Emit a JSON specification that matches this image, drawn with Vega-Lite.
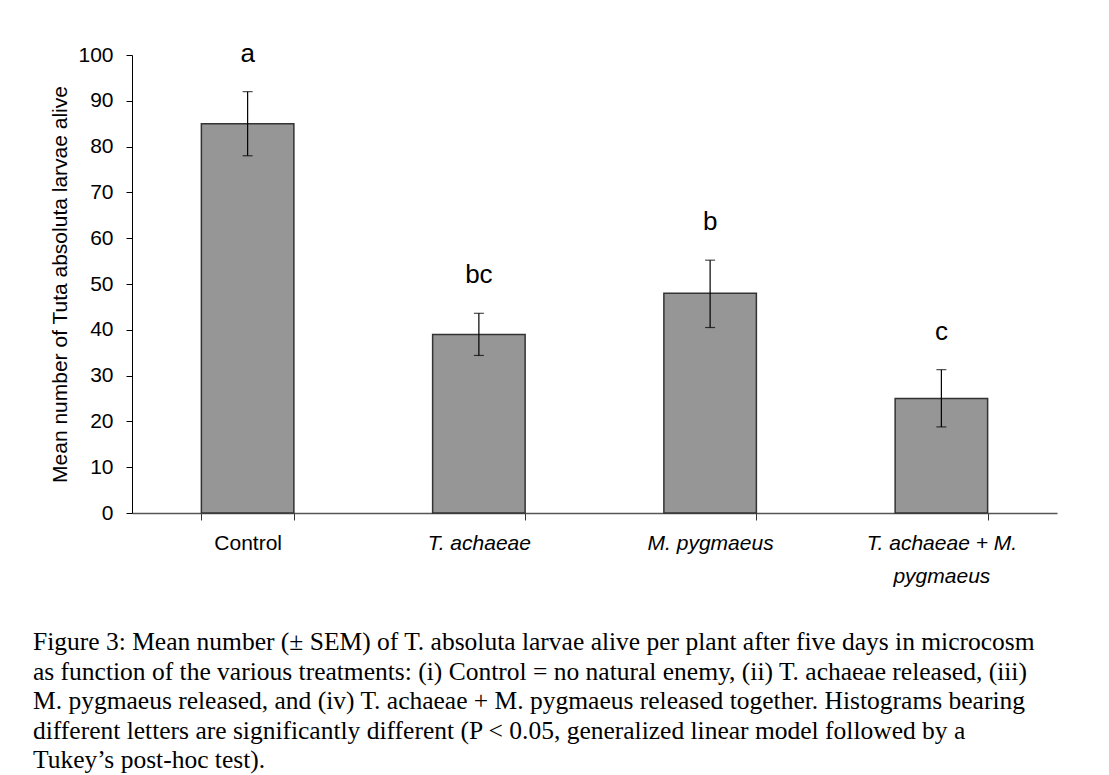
{
  "$schema": "https://vega.github.io/schema/vega-lite/v6.json",
  "autosize": "none",
  "width": 925,
  "height": 458,
  "padding": {"left": 132, "top": 55, "right": 52, "bottom": 262},
  "background": "white",
  "config": {"view": {"stroke": null}},
  "data": {
    "values": [
      {"treatment": "Control", "mean": 85, "lower": 78, "upper": 92, "letter": "a"},
      {"treatment": "T. achaeae", "mean": 39, "lower": 34.4, "upper": 43.6, "letter": "bc"},
      {"treatment": "M. pygmaeus", "mean": 48, "lower": 40.5, "upper": 55.2, "letter": "b"},
      {"treatment": "T. achaeae + M. pygmaeus", "mean": 25, "lower": 18.8, "upper": 31.3, "letter": "c"}
    ]
  },
  "title": {
    "text": [
      "Figure 3: Mean number (± SEM) of T. absoluta larvae alive per plant after five days in microcosm",
      "as function of the various treatments: (i) Control = no natural enemy, (ii) T. achaeae released, (iii)",
      "M. pygmaeus released, and (iv) T. achaeae + M. pygmaeus released together. Histograms bearing",
      "different letters are significantly different (P < 0.05, generalized linear model followed by a",
      "Tukey’s post-hoc test)."
    ],
    "orient": "bottom",
    "anchor": "start",
    "frame": "group",
    "dx": -99,
    "offset": 44,
    "font": "Liberation Serif",
    "fontSize": 25.5,
    "fontWeight": "normal",
    "lineHeight": 29.5,
    "color": "black",
    "baseline": "top"
  },
  "encoding": {
    "x": {
      "field": "treatment",
      "type": "nominal",
      "sort": null,
      "scale": {"paddingInner": 0.6, "paddingOuter": 0.3},
      "axis": {
        "title": null,
        "labelAngle": 0,
        "tickBand": "extent",
        "labelFont": "Liberation Sans",
        "labelFontSize": 21,
        "labelColor": "black",
        "labelFontStyle": {"condition": {"test": "datum.value !== 'Control'", "value": "italic"}, "value": "normal"},
        "labelExpr": "datum.value === 'T. achaeae + M. pygmaeus' ? ['T. achaeae + M.', 'pygmaeus'] : datum.value",
        "labelLineHeight": 33,
        "labelPadding": 12,
        "labelLimit": 400,
        "tickSize": 7,
        "tickColor": "#333333",
        "domainColor": "#555555",
        "domainWidth": 1.5
      }
    }
  },
  "layer": [
    {
      "mark": {"type": "bar", "fill": "#969696", "stroke": "#333333", "strokeWidth": 1.5},
      "encoding": {
        "y": {
          "field": "mean",
          "type": "quantitative",
          "scale": {"domain": [0, 100], "nice": false},
          "axis": {
            "title": "Mean number of Tuta absoluta larvae alive",
            "titleFont": "Liberation Sans",
            "titleFontSize": 21,
            "titleFontWeight": "normal",
            "titleColor": "black",
            "titlePadding": 7,
            "values": [0, 10, 20, 30, 40, 50, 60, 70, 80, 90, 100],
            "labelFont": "Liberation Sans",
            "labelFontSize": 21,
            "labelColor": "black",
            "labelPadding": 13,
            "tickSize": 6,
            "tickColor": "black",
            "domainColor": "black",
            "grid": false
          }
        }
      }
    },
    {
      "mark": {"type": "rule", "color": "black", "strokeWidth": 1.2},
      "encoding": {
        "y": {"field": "lower", "type": "quantitative"},
        "y2": {"field": "upper"}
      }
    },
    {
      "mark": {"type": "tick", "color": "black", "size": 10, "thickness": 1.2, "orient": "horizontal"},
      "encoding": {"y": {"field": "upper", "type": "quantitative"}}
    },
    {
      "mark": {"type": "tick", "color": "black", "size": 10, "thickness": 1.2, "orient": "horizontal"},
      "encoding": {"y": {"field": "lower", "type": "quantitative"}}
    },
    {
      "mark": {"type": "text", "font": "Liberation Sans", "fontSize": 26, "color": "black", "baseline": "alphabetic", "dy": -30},
      "encoding": {
        "y": {"field": "upper", "type": "quantitative"},
        "text": {"field": "letter"}
      }
    }
  ]
}
